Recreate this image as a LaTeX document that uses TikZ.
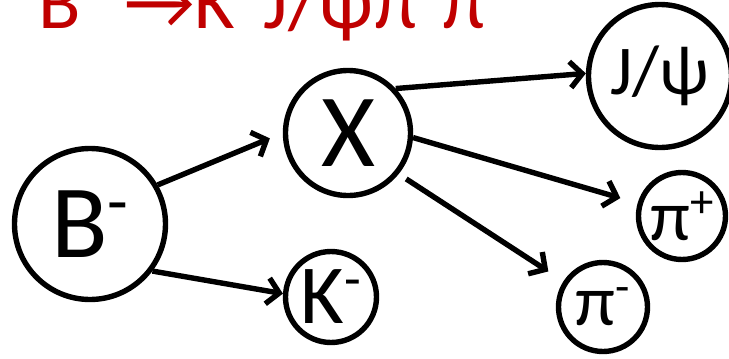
\documentclass[tikz,border=0pt]{standalone}
\usepackage{fontspec}
\setmainfont{Carlito}
\usetikzlibrary{arrows.meta, positioning}
\definecolor{myRed}{RGB}{192,0,0}
\newcommand{\chg}[1]{\raisebox{0.32em}{\scalebox{0.65}{#1}}}

\begin{document}
\begin{tikzpicture}[x=1pt, y=-1pt,
		particle/.style={circle, draw, line width=5.4pt, inner sep=0pt},
		decay/.style={-{Straight Barb[length=12pt, width=26pt]}, line width=5.4pt}]
	\useasboundingbox (0,0) rectangle (729,359);
	\clip (0,0) rectangle (729,359);
	% Decay title
	\node[anchor=base west, inner sep=0pt, text=myRed, font=\fontsize{78}{84}\selectfont] (title) at (38,28) {B\chg{-}\hspace{0.36em}→K\chg{-}\,J/ψπ\chg{+}π\chg{-}};
	% Mother and first step
	\node[particle, minimum size=151pt, font=\fontsize{104}{110}\selectfont] (B) at (90,224) {B\chg{-}};
	\node[particle, minimum size=125pt, font=\fontsize{104}{110}\selectfont] (X) at (348,133) {X};
	\node[particle, minimum size=91pt, font=\fontsize{84}{90}\selectfont] (K) at (331,297) {K\chg{-}};
	% Daughters of X
	\node[particle, minimum size=143pt, font=\fontsize{70}{76}\selectfont] (jpsi) at (660,76) {J/ψ};
	\node[particle, minimum size=87pt, font=\fontsize{72}{78}\selectfont] (pip) at (682,216) {π\chg{+}};
	\node[particle, minimum size=89pt, font=\fontsize{72}{78}\selectfont] (pim) at (603,307) {π\chg{-}};
	% Arrows
	\draw[decay, shorten >=14pt] (B.30) -- (X.west);
	\draw[decay] (B.-37) -- (K.176);
	\draw[decay] (X.43) -- (jpsi.178);
	\draw[decay, shorten >=18pt] (X.-4) -- (pip);
	\draw[decay, shorten <=9pt, shorten >=18pt] (X.-39) -- (pim);
\end{tikzpicture}
\end{document}
